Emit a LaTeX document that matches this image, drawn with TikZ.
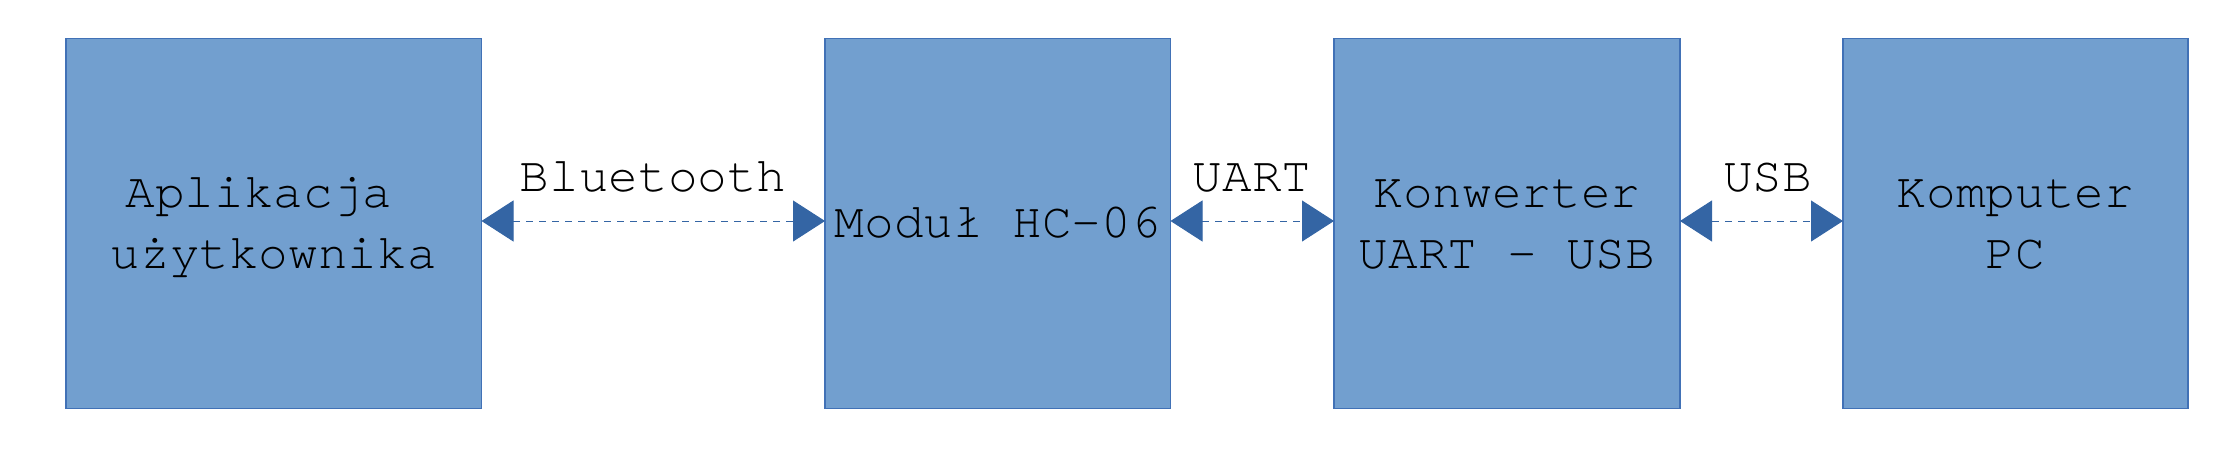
\documentclass[tikz,border=0pt]{standalone}
\usepackage{fontspec}
\setmainfont{TeX Gyre Cursor}
\usetikzlibrary{arrows.meta}
\definecolor{boxfill}{RGB}{114,159,207}
\definecolor{boxline}{RGB}{65,113,182}
\definecolor{arr}{RGB}{52,101,164}
\begin{document}
\begin{tikzpicture}[x=0.5pt,y=-0.5pt,
  blk/.style={draw=boxline, fill=boxfill, line width=0.75pt, rectangle, inner sep=0pt, outer sep=0pt, minimum height=185pt},
  txt/.style={font=\fontsize{24.7pt}{30pt}\selectfont, inner sep=0pt, anchor=base, text=black},
  conn/.style={draw=arr, line width=0.5pt, dash pattern=on 3.5pt off 3pt,
    {Triangle[length=16pt,width=20.5pt]}-{Triangle[length=16pt,width=20.5pt]}},
]
\useasboundingbox (0,0) rectangle (2238,451);
% blocks
\node[blk, minimum width=207.75pt] (a) at (273.75,223.4) {};
\node[blk, minimum width=172.75pt] (b) at (997.75,223.4) {};
\node[blk, minimum width=173pt] (c) at (1507,223.4) {};
\node[blk, minimum width=172.5pt] (d) at (2015.5,223.4) {};
% block texts
\node[txt] (a1) at (273.75,207) {Aplikacja\phantom{a}};
\node[txt] (a2) at (273.75,268.5) {użytkownika};
\node[txt] (b1) at (997.75,237) {Moduł HC-06};
\node[txt] (c1) at (1507,207) {Konwerter};
\node[txt] (c2) at (1507,268.5) {UART - USB};
\node[txt] (d1) at (2015.5,207) {Komputer};
\node[txt] (d2) at (2015.5,268.5) {PC};
% connectors
\draw[conn] ([yshift=1.2pt]a.east) -- ([yshift=1.2pt]b.west)
  node[txt, midway, yshift=14.7pt] (l1) {Bluetooth};
\draw[conn] ([yshift=1.2pt]b.east) -- ([yshift=1.2pt]c.west)
  node[txt, midway, yshift=14.7pt] (l2) {UART};
\draw[conn] ([yshift=1.2pt]c.east) -- ([yshift=1.2pt]d.west)
  node[txt, midway, yshift=14.7pt, xshift=3pt] (l3) {USB};
\end{tikzpicture}
\end{document}
